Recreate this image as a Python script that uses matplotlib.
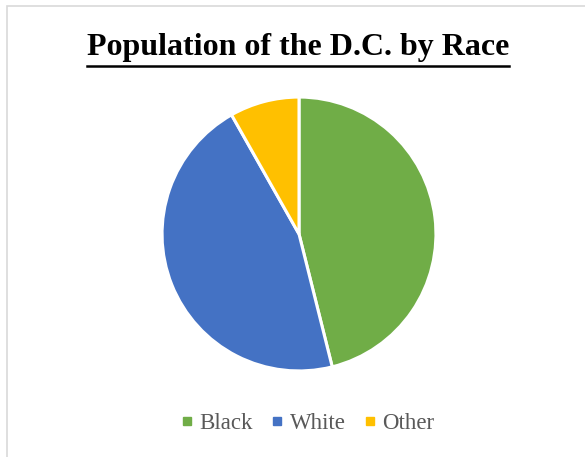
import matplotlib.pyplot as plt
from matplotlib.patches import Rectangle
from matplotlib.lines import Line2D

# data
races = ["Black", "White", "Other"]
shares = [46.1, 45.7, 8.2]
colors = ["#70AD47", "#4472C4", "#FFC000"]

plt.rcParams["font.family"] = ["Liberation Serif", "DejaVu Serif"]

fig = plt.figure(figsize=(5.85, 4.57), dpi=100)

# chart frame (light grey, cut off at right/bottom like the screenshot)
fig.patches.append(Rectangle((7 / 585, -0.05), 1.2, 1 - 6 / 457 + 0.05,
                             transform=fig.transFigure, fill=False,
                             edgecolor="#D9D9D9", linewidth=1.2))

# pie axes: center ~ (299, 234), radius ~ 137 px
ax = fig.add_axes([(299 - 139) / 585, (457 - 234 - 139) / 457, 278 / 585, 278 / 457])
ax.pie(shares, colors=colors, startangle=90, counterclock=False,
       wedgeprops=dict(edgecolor="white", linewidth=2.2))
ax.set_aspect("equal")
ax.set_xlim(-1.015, 1.015)
ax.set_ylim(-1.015, 1.015)

# title with underline
title = fig.text(298 / 585, 1 - 48 / 457, "Population of the D.C. by Race",
                 ha="center", va="center", fontsize=23, fontweight="bold")
fig.canvas.draw()
bb = title.get_window_extent(fig.canvas.get_renderer())
bb = bb.transformed(fig.transFigure.inverted())
y_ul = 1 - 66 / 457
fig.add_artist(Line2D([bb.x0, bb.x1], [y_ul, y_ul],
                      transform=fig.transFigure, color="black", linewidth=1.8))

# legend
handles = [Line2D([], [], marker="s", linestyle="none", markersize=6,
                  markerfacecolor=c, markeredgecolor=c) for c in colors]
fig.legend(handles, races, loc="center", bbox_to_anchor=(305 / 585, 1 - 423 / 457),
           ncol=3, frameon=False, fontsize=16.5, labelcolor="#595959",
           handletextpad=0.05, columnspacing=0.55, handlelength=1.0)

plt.savefig("out.png", dpi=100)
